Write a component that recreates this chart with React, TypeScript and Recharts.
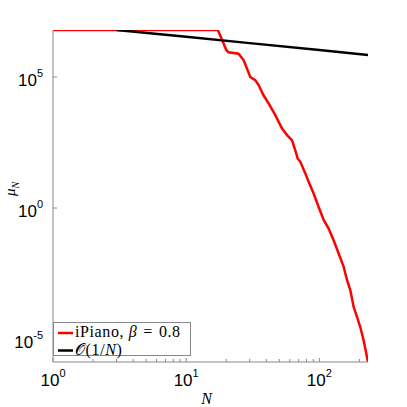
import { LineChart, Line, XAxis, YAxis, Legend, Label } from 'recharts';

// iPiano, beta = 0.8
const iterN = [1, 17.3, 19.1, 20.0, 20.8, 24.7, 27.0, 30.3, 33.0, 35.0, 38.1, 41.6, 46.7, 52.4, 57.2, 62.3, 66.0, 68.7, 72.0, 78.5, 83.1, 90.6, 98.8, 108, 117.5, 128, 139.7, 152.4, 161.5, 171, 181, 192, 203, 215, 232];
const iPiano = [6.17e6, 6.17e6, 1.9e6, 1.07e6, 8.7e5, 7.7e5, 4.4e5, 1.0e5, 7.6e4, 4.9e4, 2.0e4, 9.8e3, 3.5e3, 1.1e3, 600, 390, 160, 78, 58, 21, 10, 3.6, 1.1, 0.345, 0.166, 0.0596, 0.0185, 0.0057, 1.77e-3, 7.3e-4, 1.7e-4, 7.0e-5, 2.9e-5, 9.1e-6, 1.35e-6];

// reference rate O(1/N)
const rateN = [3, 10, 30, 100, 232];
const rate = [6.17e6, 3.4e6, 1.95e6, 1.06e6, 6.9e5];

const xTicks = [1, 2, 3, 4, 5, 6, 7, 8, 9, 10, 20, 30, 40, 50, 60, 70, 80, 90, 100, 200];
const yTicks = [1e-5, 1, 1e5];

const redData = iterN.map((n, i) => ({ n, mu: iPiano[i] }));
const blackData = rateN.map((n, i) => ({ n, mu: rate[i] }));

const AXIS = '#888';
const SERIF = "'Liberation Serif', 'Times New Roman', serif";
const isDecade = (v: number) => Math.abs(Math.log10(v) - Math.round(Math.log10(v))) < 1e-9;

function Pow({ x, y, v, anchor }: { x: number; y: number; v: number; anchor: 'middle' | 'end' }) {
  const e = Math.round(Math.log10(v));
  return (
    <text x={x} y={y} textAnchor={anchor} fill="#000" fontFamily="'Liberation Sans', Arial, sans-serif" fontSize={17}>
      10<tspan dy={-9} fontSize={11}>{e}</tspan>
    </text>
  );
}

const BottomTick = (p: any) => {
  const v = p.payload.value;
  const major = isDecade(v);
  return (
    <g>
      <line x1={p.x} y1={p.y} x2={p.x} y2={p.y - (major ? 4 : 3)} stroke={AXIS} />
      {major && <Pow x={p.x} y={p.y + 24} v={v} anchor="middle" />}
    </g>
  );
};

const TopTick = (p: any) => {
  const major = isDecade(p.payload.value);
  return <line x1={p.x} y1={p.y} x2={p.x} y2={p.y + (major ? 4 : 3)} stroke={AXIS} />;
};

const LeftTick = (p: any) => (
  <g>
    <line x1={p.x} y1={p.y} x2={p.x + 4} y2={p.y} stroke={AXIS} />
    <Pow x={p.x - 10} y={p.y + 9} v={p.payload.value} anchor="end" />
  </g>
);

const RightTick = (p: any) => <line x1={p.x} y1={p.y} x2={p.x - 4} y2={p.y} stroke={AXIS} />;

// legend drawn as a small svg; taller than the frame so no glyph gets clipped
function LegendBox() {
  return (
    <svg width={140} height={40} style={{ display: 'block', overflow: 'visible' }}>
      <rect x={0.5} y={0.5} width={137} height={33} fill="#fff" stroke={AXIS} />
      <line x1={5} x2={20} y1={11} y2={11} stroke="#ff0000" strokeWidth={2.5} />
      <line x1={5} x2={20} y1={28.5} y2={28.5} stroke="#000" strokeWidth={2.5} />
      <text x={22} y={15} fontFamily={SERIF} fontSize={16} letterSpacing={0.6} fill="#000">
        iPiano, <tspan fontStyle="italic">β</tspan><tspan dx={6}>=</tspan><tspan dx={6}>0.8</tspan>
      </text>
      <text x={22} y={33} fontFamily={SERIF} fontSize={16} letterSpacing={0.6} fill="#000">
        𝒪(1/<tspan fontStyle="italic">N</tspan>)
      </text>
    </svg>
  );
}

export default function App() {
  return (
    <div style={{ position: 'absolute', left: 0, top: 0, background: '#fff' }}>
      <LineChart width={407} height={407} margin={{ top: 30, right: 39, bottom: 0, left: 0 }}>
        <XAxis dataKey="n" type="number" scale="log" domain={[1, 232]} allowDataOverflow ticks={xTicks} interval={0}
          height={45} tickSize={0} tickMargin={0} tickLine={false} axisLine={{ stroke: AXIS }} tick={BottomTick}>
          <Label content={(props: any) => {
            const vb = props.viewBox;
            return <text x={vb.x + vb.width / 2 - 4} y={vb.y + 42} textAnchor="middle" fontFamily={SERIF} fontStyle="italic" fontSize={16}>N</text>;
          }} />
        </XAxis>
        <XAxis xAxisId="top" orientation="top" dataKey="n" type="number" scale="log" domain={[1, 232]} allowDataOverflow
          ticks={xTicks} interval={0} height={0} tickSize={0} tickMargin={0} tickLine={false} axisLine={{ stroke: AXIS }} tick={TopTick} />
        <YAxis type="number" scale="log" domain={[1.35e-6, 6.17e6]} allowDataOverflow ticks={yTicks} interval={0}
          width={53} tickSize={0} tickMargin={0} tickLine={false} axisLine={{ stroke: AXIS }} tick={LeftTick}>
          <Label content={() => (
            <text transform="translate(15,189) rotate(-90)" textAnchor="middle" fontFamily={SERIF} fontStyle="italic" fontSize={15}>
              μ<tspan dy={4} fontSize={10}>N</tspan>
            </text>
          )} />
        </YAxis>
        <YAxis yAxisId="right" orientation="right" type="number" scale="log" domain={[1.35e-6, 6.17e6]} allowDataOverflow
          ticks={yTicks} interval={0} width={0} tickSize={0} tickMargin={0} tickLine={false} axisLine={{ stroke: AXIS }} tick={RightTick} />
        <Line data={redData} dataKey="mu" stroke="#ff0000" strokeWidth={2.5} dot={false} isAnimationActive={false} type="linear" />
        <Line data={blackData} dataKey="mu" stroke="#000" strokeWidth={2.5} dot={false} isAnimationActive={false} type="linear" />
        <Legend layout="vertical" align="center" verticalAlign="middle" content={() => <LegendBox />}
          wrapperStyle={{ position: 'absolute', left: 53, top: 322, width: 140, height: 40 }} />
      </LineChart>
    </div>
  );
}
